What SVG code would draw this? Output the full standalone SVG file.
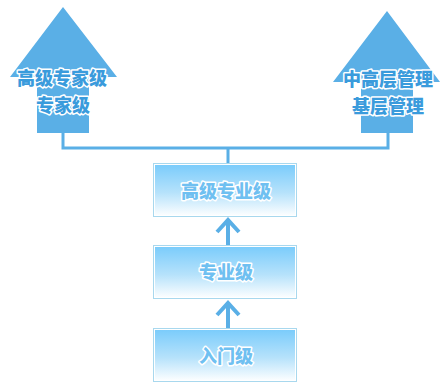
<svg xmlns="http://www.w3.org/2000/svg" width="448" height="391" viewBox="0 0 448 391">
<style>
.big{fill:#5aafe6}
.lbl{font-family:"Noto Sans CJK SC","Noto Sans",sans-serif;font-weight:900;font-size:18px;text-anchor:middle;fill:#3a9bdc;stroke:#ffffff;stroke-width:3;paint-order:stroke;stroke-linejoin:round}
.btxt{font-family:"Noto Sans CJK SC","Noto Sans",sans-serif;font-weight:900;font-size:18px;text-anchor:middle;fill:#6fc0f1;stroke:#ffffff;stroke-width:3;paint-order:stroke;stroke-linejoin:round}
.box{fill:url(#g);stroke:#a8d8ee;stroke-width:1}
.inner{fill:none;stroke:#ffffff;stroke-width:1}
.conn{fill:none;stroke:#5aafe6;stroke-width:3}
.up{fill:none;stroke:#5aafe6;stroke-width:4}
</style>
<defs>
<linearGradient id="g" x1="0" y1="0" x2="0" y2="1">
<stop offset="0" stop-color="#78cbfb"/>
<stop offset="0.55" stop-color="#b6e2fb"/>
<stop offset="1" stop-color="#ffffff"/>
</linearGradient>
</defs>
<g id="connectors">
<path class="conn" d="M63,133 V148 H388 V133 M228,148 V163"/>
<path class="up" d="M217,232 L228,220 L239,232 M228,221 V245"/>
<path class="up" d="M217,315 L228,303 L239,315 M228,304 V328"/>
</g>
<g id="arrow-left">
<polygon class="big" points="63,7 117,77 89,77 89,133 37,133 37,77 10,77"/>
<text class="lbl" x="62" y="85">高级专家级</text>
<text class="lbl" x="63" y="112">专家级</text>
</g>
<g id="arrow-right">
<polygon class="big" points="387,11 440,82 413,82 413,133 361,133 361,82 333,82"/>
<text class="lbl" x="388" y="86">中高层管理</text>
<text class="lbl" x="388" y="113">基层管理</text>
</g>
<g id="node-senior">
<rect class="box" x="153.5" y="163.5" width="143" height="53"/>
<rect class="inner" x="154.5" y="164.5" width="141" height="51"/>
<text class="btxt" x="226" y="198">高级专业级</text>
</g>
<g id="node-pro">
<rect class="box" x="153.5" y="245.5" width="143" height="53"/>
<rect class="inner" x="154.5" y="246.5" width="141" height="51"/>
<text class="btxt" x="226" y="279">专业级</text>
</g>
<g id="node-entry">
<rect class="box" x="153.5" y="328.5" width="143" height="53"/>
<rect class="inner" x="154.5" y="329.5" width="141" height="51"/>
<text class="btxt" x="226" y="363">入门级</text>
</g>
</svg>
